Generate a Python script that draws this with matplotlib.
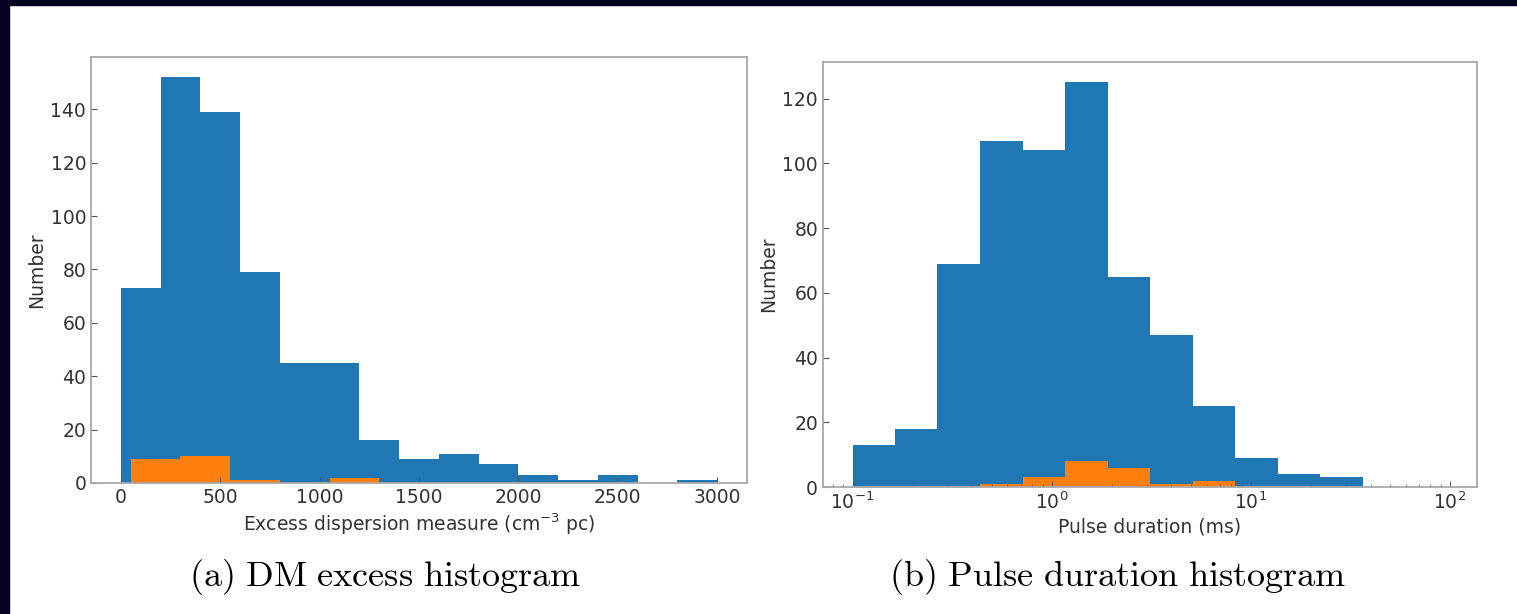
import matplotlib.pyplot as plt
from matplotlib.patches import Rectangle

# (a) excess DM histogram
dm_edges = [0, 200, 400, 600, 800, 1000, 1200, 1400, 1600, 1800, 2000,
            2200, 2400, 2600, 2800, 3000]
dm_all = [73, 152, 139, 79, 45, 45, 16, 9, 11, 7, 3, 1, 3, 0, 1]
dm_sub_edges = [50, 300, 550, 800, 1050, 1300]
dm_sub = [9, 10, 1, 0, 2]

# (b) pulse duration histogram (ms)
w_edges = [0.100, 0.163, 0.267, 0.437, 0.715, 1.17, 1.91, 3.13, 5.11,
           8.36, 13.7, 22.3, 36.5]
w_all = [13, 18, 69, 107, 104, 125, 65, 47, 25, 9, 4, 3]
w_sub_edges = [0.437, 0.715, 1.17, 1.91, 3.13, 5.11, 8.36]
w_sub = [1, 3, 8, 6, 1, 2]

BLUE = "#1f77b4"
ORANGE = "#ff7f0e"
NAVY = "#03021f"
FS = 13.5


def style_axes(ax):
    for sp in ax.spines.values():
        sp.set_color("#a8a8a8")
        sp.set_linewidth(1.3)
    ax.tick_params(which="both", direction="in", top=False, right=False,
                   colors="#555555", labelcolor="#333333", labelsize=FS)
    ax.tick_params(which="major", length=4)
    ax.tick_params(which="minor", length=2.5)


fig = plt.figure(figsize=(15.17, 6.14), dpi=100)
fig.patch.set_facecolor("white")

ax1 = fig.add_axes([0.060, 0.2134, 0.4324, 0.6938])
ax1.hist(dm_edges[:-1], bins=dm_edges, weights=dm_all, color=BLUE)
ax1.hist(dm_sub_edges[:-1], bins=dm_sub_edges, weights=dm_sub, color=ORANGE)
ax1.set_xticks([0, 500, 1000, 1500, 2000, 2500, 3000])
ax1.set_xlim(-150, 3150)
ax1.set_ylim(0, 159.6)
ax1.set_xlabel(r"Excess dispersion measure (cm$^{-3}$ pc)", fontsize=FS,
               color="#333333", labelpad=3)
ax1.set_ylabel("Number", fontsize=FS, color="#333333", labelpad=3)
style_axes(ax1)

ax2 = fig.add_axes([0.5425, 0.2068, 0.4311, 0.692])
ax2.hist(w_edges[:-1], bins=w_edges, weights=w_all, color=BLUE)
ax2.hist(w_sub_edges[:-1], bins=w_sub_edges, weights=w_sub, color=ORANGE)
ax2.set_xscale("log")
ax2.set_xlim(0.071, 137)
ax2.set_ylim(0, 131.25)
ax2.set_xlabel("Pulse duration (ms)", fontsize=FS, color="#333333", labelpad=3)
ax2.set_ylabel("Number", fontsize=FS, color="#333333", labelpad=3)
style_axes(ax2)

fig.text(0.254, 0.061, r"$\mathrm{(a)\ DM\ excess\ histogram}$",
         ha="center", va="center", fontsize=26, math_fontfamily="cm")
fig.text(0.737, 0.061, r"$\mathrm{(b)\ Pulse\ duration\ histogram}$",
         ha="center", va="center", fontsize=26, math_fontfamily="cm")

# dark frame on the left and top edges
fig.patches.append(Rectangle((0, 0), 8.7 / 1517, 1, transform=fig.transFigure,
                             color=NAVY, zorder=10))
fig.patches.append(Rectangle((0, 1 - 5 / 614), 1, 5 / 614, transform=fig.transFigure,
                             color=NAVY, zorder=10))

fig.savefig("out.png", dpi=100)
